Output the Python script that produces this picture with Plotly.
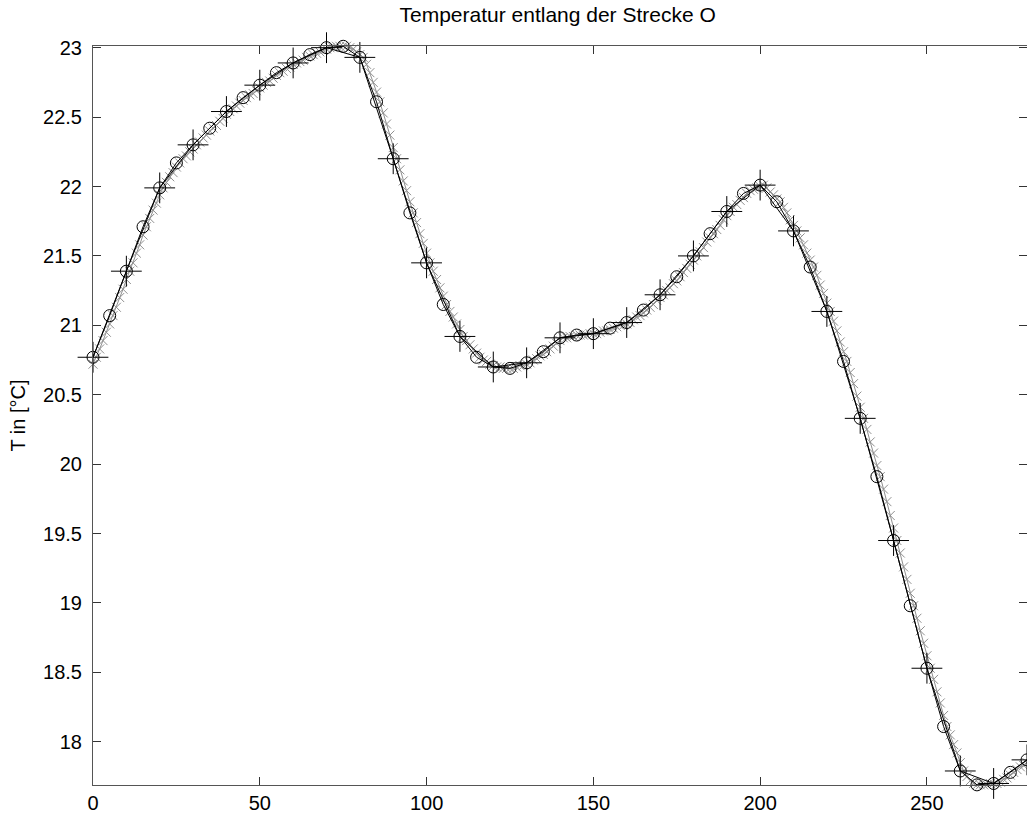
import plotly.graph_objects as go

# Black circle series (every 5 units)
circle_x = list(range(0, 285, 5))
circle_y = [20.77, 21.07, 21.39, 21.71, 21.99, 22.17, 22.30, 22.42, 22.54, 22.64,
            22.73, 22.82, 22.89, 22.95, 23.00, 23.01, 22.93, 22.61, 22.20, 21.81,
            21.45, 21.15, 20.92, 20.77, 20.70, 20.69, 20.73, 20.81, 20.91, 20.93,
            20.94, 20.98, 21.02, 21.11, 21.22, 21.35, 21.50, 21.66, 21.82, 21.95,
            22.01, 21.89, 21.68, 21.42, 21.10, 20.74, 20.33, 19.91, 19.45, 18.98,
            18.53, 18.11, 17.79, 17.69, 17.70, 17.78, 17.87]

# Black plus series (every 10 units)
plus_x = list(range(0, 290, 10))
plus_y = [20.77, 21.39, 21.99, 22.30, 22.54, 22.73, 22.89, 23.00, 22.93, 22.20,
          21.45, 20.92, 20.70, 20.73, 20.91, 20.94, 21.02, 21.22, 21.50, 21.82,
          22.01, 21.68, 21.10, 20.33, 19.45, 18.53, 17.79, 17.70, 17.87]

# Grey x series (every unit)
grey_x = list(range(0, 281))
grey_y = [20.72,
    20.77, 20.83, 20.89, 20.95, 21.01, 21.07, 21.13, 21.20, 21.26, 21.33,
    21.39, 21.45, 21.52, 21.58, 21.65, 21.71, 21.77, 21.83, 21.88, 21.94,
    21.99, 22.03, 22.07, 22.10, 22.14, 22.17, 22.20, 22.22, 22.25, 22.27,
    22.30, 22.32, 22.35, 22.37, 22.40, 22.42, 22.44, 22.47, 22.49, 22.52,
    22.54, 22.56, 22.58, 22.60, 22.62, 22.64, 22.66, 22.67, 22.69, 22.71,
    22.73, 22.75, 22.76, 22.78, 22.80, 22.82, 22.83, 22.85, 22.86, 22.88,
    22.89, 22.90, 22.91, 22.93, 22.94, 22.95, 22.96, 22.97, 22.98, 22.99,
    23.00, 23.00, 23.01, 23.01, 23.01, 23.01, 23.00, 22.99, 22.97, 22.95,
    22.93, 22.88, 22.82, 22.75, 22.68, 22.61, 22.53, 22.45, 22.37, 22.28,
    22.20, 22.12, 22.04, 21.97, 21.89, 21.81, 21.74, 21.66, 21.59, 21.52,
    21.45, 21.39, 21.33, 21.27, 21.21, 21.15, 21.10, 21.06, 21.01, 20.97,
    20.92, 20.89, 20.86, 20.83, 20.80, 20.77, 20.75, 20.74, 20.72, 20.71,
    20.70, 20.70, 20.69, 20.69, 20.69, 20.69, 20.70, 20.71, 20.71, 20.72,
    20.73, 20.75, 20.76, 20.78, 20.79, 20.81, 20.83, 20.85, 20.87, 20.89,
    20.91, 20.91, 20.92, 20.92, 20.93, 20.93, 20.93, 20.93, 20.94, 20.94,
    20.94, 20.95, 20.96, 20.96, 20.97, 20.98, 20.99, 21.00, 21.00, 21.01,
    21.02, 21.04, 21.06, 21.07, 21.09, 21.11, 21.13, 21.15, 21.18, 21.20,
    21.22, 21.25, 21.27, 21.30, 21.32, 21.35, 21.38, 21.41, 21.44, 21.47,
    21.50, 21.53, 21.56, 21.60, 21.63, 21.66, 21.69, 21.72, 21.76, 21.79,
    21.82, 21.85, 21.87, 21.90, 21.92, 21.95, 21.97, 21.98, 21.99, 22.00,
    22.01, 21.99, 21.96, 21.94, 21.91, 21.89, 21.85, 21.81, 21.76, 21.72,
    21.68, 21.63, 21.58, 21.52, 21.47, 21.42, 21.36, 21.29, 21.23, 21.16,
    21.10, 21.03, 20.96, 20.88, 20.81, 20.74, 20.66, 20.58, 20.49, 20.41,
    20.33, 20.25, 20.16, 20.08, 19.99, 19.91, 19.82, 19.73, 19.63, 19.54,
    19.45, 19.36, 19.26, 19.17, 19.07, 18.98, 18.89, 18.80, 18.71, 18.62,
    18.53, 18.45, 18.36, 18.28, 18.19, 18.11, 18.05, 17.98, 17.92, 17.85,
    17.79, 17.75, 17.72, 17.70, 17.69, 17.69, 17.69, 17.69, 17.70, 17.70,
    17.70, 17.71, 17.73, 17.74, 17.76, 17.78, 17.80, 17.82, 17.83, 17.85]

x_ticks = [0, 50, 100, 150, 200, 250]
y_ticks = [18, 18.5, 19, 19.5, 20, 20.5, 21, 21.5, 22, 22.5, 23]
y_tick_labels = ["18", "18.5", "19", "19.5", "20", "20.5", "21", "21.5", "22", "22.5", "23"]

FONT = "Liberation Sans, Arial, sans-serif"

fig = go.Figure()
fig.add_trace(go.Scatter(
    x=grey_x, y=grey_y, mode="lines+markers", cliponaxis=False,
    line=dict(color="#8f8f8f", width=1),
    marker=dict(symbol="x-thin-open", size=9, color="#8f8f8f",
                line=dict(color="#8f8f8f", width=1)),
    showlegend=False, hoverinfo="skip"))
fig.add_trace(go.Scatter(
    x=plus_x, y=plus_y, mode="lines+markers", cliponaxis=False,
    line=dict(color="black", width=1),
    marker=dict(symbol="cross-thin-open", size=22, color="black",
                line=dict(color="black", width=1)),
    showlegend=False, hoverinfo="skip"))
fig.add_trace(go.Scatter(
    x=circle_x, y=circle_y, mode="lines+markers", cliponaxis=False,
    line=dict(color="black", width=1),
    marker=dict(symbol="circle-open", size=12, color="black",
                line=dict(color="black", width=1)),
    showlegend=False, hoverinfo="skip"))

axis_common = dict(
    showline=True, mirror="ticks", linecolor="#555555", linewidth=1,
    ticks="inside", ticklen=8, tickwidth=1, tickcolor="#333333",
    showgrid=False, zeroline=False,
    tickfont=dict(family=FONT, size=20, color="black"),
)

fig.update_layout(
    width=1027, height=814,
    margin=dict(l=93, r=0, t=46, b=29),
    paper_bgcolor="white", plot_bgcolor="white",
    title=dict(text="Temperatur entlang der Strecke O", x=0.543, xanchor="center",
               y=1 - 15 / 814, yanchor="middle",
               font=dict(family=FONT, size=21, color="black")),
    xaxis=dict(range=[0, 280], tickvals=x_ticks, **axis_common),
    yaxis=dict(range=[17.689, 23.012], tickvals=y_ticks, ticktext=y_tick_labels,
               title=dict(text="T in [°C]", font=dict(family=FONT, size=20, color="black"),
                          standoff=12),
               ticklabelstandoff=6, **axis_common),
)

fig.write_html("out.html")
